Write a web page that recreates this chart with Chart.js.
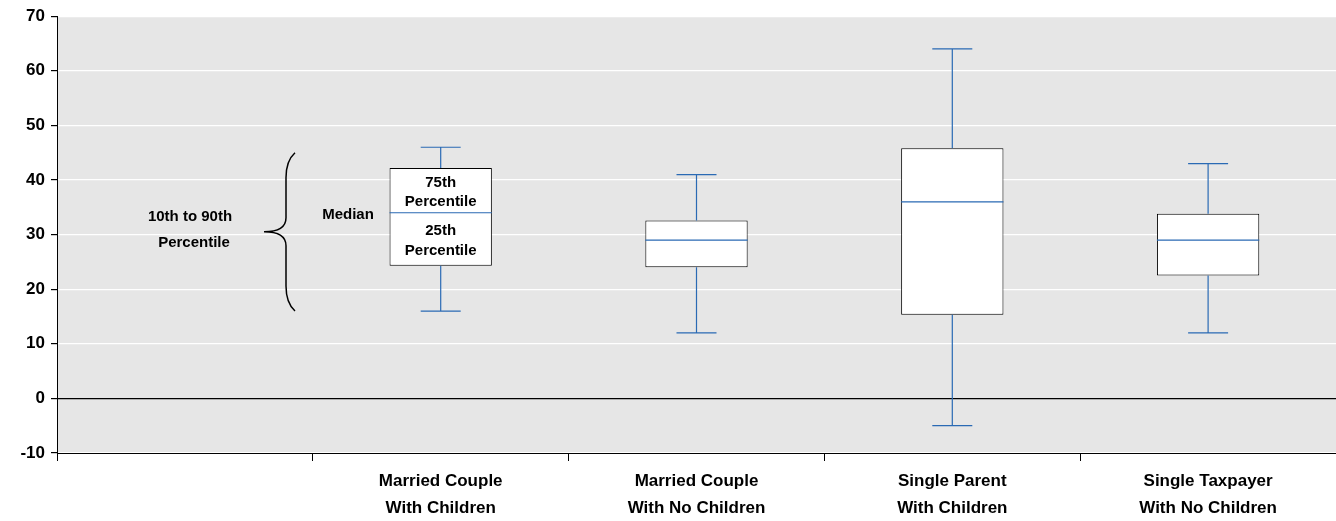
<!DOCTYPE html>
<html>
<head>
<meta charset="utf-8">
<script src="https://cdn.jsdelivr.net/npm/chart.js@4"></script>
<style>
  body { margin: 0; background: #fff; }
  #wrap { width: 1336px; height: 521px; }
</style>
</head>
<body>
<div id="wrap"><canvas id="box"></canvas></div>
<script>
// categories (first slot holds the key)
var categories = [
    '',
    ['Married Couple', 'With Children'],
    ['Married Couple', 'With No Children'],
    ['Single Parent', 'With Children'],
    ['Single Taxpayer', 'With No Children']
];
var p10 = [null, 16, 12, -5, 12];
var p25 = [null, 24.3, 24, 15.3, 22.5];
var median = [null, 34, 29, 36, 29];
var p75 = [null, 42.2, 32.6, 45.8, 33.8];
var p90 = [null, 46, 41, 64, 43];

var blue = '#2a6ab4';
var font = 'Liberation Sans, Arial, sans-serif';

var boxes = p25.map(function (v, i) { return v === null ? null : [v, p75[i]]; });

var boxPlugin = {
    id: 'boxPlugin',
    beforeDraw: function (chart) {
        var a = chart.chartArea, c = chart.ctx;
        c.save();
        c.fillStyle = '#e6e6e6';
        c.fillRect(a.left, a.top, a.right - a.left, a.bottom - a.top);
        c.restore();
    },
    afterDatasetsDraw: function (chart) {
        var c = chart.ctx, xs = chart.scales.x, ys = chart.scales.y;
        var meta = chart.getDatasetMeta(0);
        c.save();
        c.lineWidth = 1.2;
        c.strokeStyle = blue;
        for (var i = 0; i < categories.length; i++) {
            if (p10[i] === null) continue;
            var x = xs.getPixelForValue(i);
            var half = meta.data[i].width / 2;
            c.beginPath();
            c.moveTo(x, ys.getPixelForValue(p75[i])); c.lineTo(x, ys.getPixelForValue(p90[i]));
            c.moveTo(x - 20, ys.getPixelForValue(p90[i])); c.lineTo(x + 20, ys.getPixelForValue(p90[i]));
            c.moveTo(x, ys.getPixelForValue(p25[i])); c.lineTo(x, ys.getPixelForValue(p10[i]));
            c.moveTo(x - 20, ys.getPixelForValue(p10[i])); c.lineTo(x + 20, ys.getPixelForValue(p10[i]));
            c.moveTo(x - half, ys.getPixelForValue(median[i])); c.lineTo(x + half, ys.getPixelForValue(median[i]));
            c.stroke();
        }
        // key
        var x1 = xs.getPixelForValue(1);
        c.fillStyle = '#000';
        c.font = 'bold 15px ' + font;
        c.textAlign = 'center';
        c.textBaseline = 'middle';
        c.fillText('75th', x1, ys.getPixelForValue(39.5));
        c.fillText('Percentile', x1, ys.getPixelForValue(36));
        c.fillText('25th', x1, ys.getPixelForValue(30.7));
        c.fillText('Percentile', x1, ys.getPixelForValue(27));
        c.fillText('Median', 348, ys.getPixelForValue(33.6));
        c.fillText('10th to 90th', 190, ys.getPixelForValue(33.3));
        c.fillText('Percentile', 194, ys.getPixelForValue(28.5));
        // brace
        var top = ys.getPixelForValue(45), bot = ys.getPixelForValue(16), mid = ys.getPixelForValue(30.5);
        c.strokeStyle = '#000';
        c.lineWidth = 1.5;
        c.beginPath();
        c.moveTo(295, top);
        c.quadraticCurveTo(286, top + 8, 286, top + 25);
        c.lineTo(286, mid - 14);
        c.quadraticCurveTo(286, mid, 264, mid);
        c.quadraticCurveTo(286, mid, 286, mid + 14);
        c.lineTo(286, bot - 25);
        c.quadraticCurveTo(286, bot - 8, 295, bot);
        c.stroke();
        c.restore();
    }
};

new Chart(document.getElementById('box'), {
    type: 'bar',
    data: {
        labels: categories,
        datasets: [{
            data: boxes,
            backgroundColor: '#fff',
            borderColor: '#000',
            borderWidth: 1,
            borderSkipped: false,
            barPercentage: 0.4,
            categoryPercentage: 1
        }]
    },
    options: {
        responsive: true,
        maintainAspectRatio: false,
        animation: false,
        layout: { padding: { top: 6, right: 0 } },
        plugins: { legend: { display: false }, tooltip: { enabled: false } },
        scales: {
            x: {
                offset: true,
                afterFit: function (s) { s.height = 68; },
                grid: { offset: true, drawOnChartArea: false, tickLength: 8, color: '#000' },
                border: { color: '#000' },
                ticks: { color: '#000', font: { family: font, size: 17, weight: 'bold', lineHeight: 1.6 }, padding: 7, maxRotation: 0 }
            },
            y: {
                min: -10, max: 70,
                afterFit: function (s) { s.width = 57; },
                grid: {
                    color: function (ctx) { return ctx.tick.value === 0 ? '#000' : '#fff'; },
                    lineWidth: 1.2, tickColor: '#000', tickLength: 6
                },
                border: { color: '#000' },
                ticks: { stepSize: 10, color: '#000', font: { family: font, size: 17, weight: 'bold' }, padding: 6 }
            }
        }
    },
    plugins: [boxPlugin]
});
</script>
</body>
</html>
